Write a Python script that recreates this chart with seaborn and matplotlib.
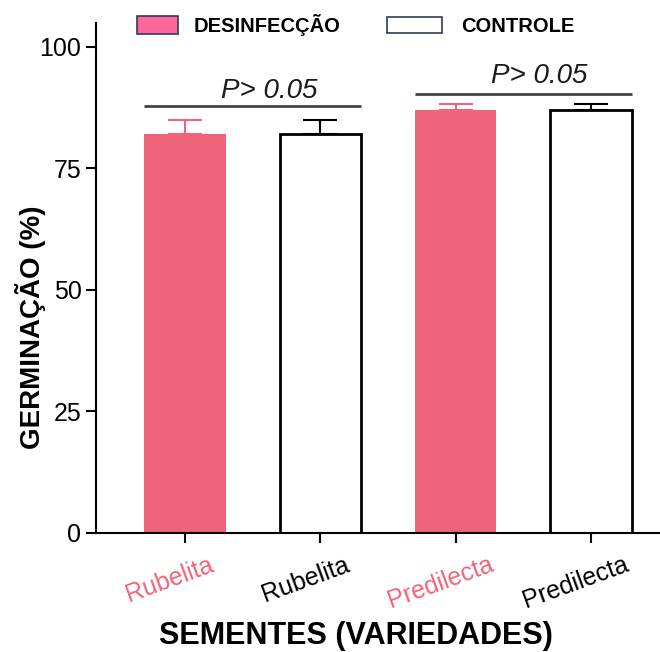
import matplotlib
matplotlib.use("Agg")
import matplotlib.pyplot as plt
import matplotlib.transforms as mtransforms
from matplotlib.patches import Patch
import seaborn as sns
import pandas as pd

# Germination data (mean % and upper error) per seed variety and treatment
grupos = ["Rubelita_D", "Rubelita_C", "Predilecta_D", "Predilecta_C"]
rotulos = ["Rubelita", "Rubelita", "Predilecta", "Predilecta"]
tratamento = ["DESINFECÇÃO", "CONTROLE", "DESINFECÇÃO", "CONTROLE"]
germinacao = [82, 82, 87, 87]
erro = [3, 3, 1.2, 1.2]

# Pairwise comparisons: (first bar, second bar, label)
comparacoes = [(0, 1, "P> 0.05"), (2, 3, "P> 0.05")]
altura_linha = [87.9, 90.2]
altura_texto = [89.5, 92.6]

ROSA = "#F06479"
ROSA_LEG = "#FF6699"
BORDA_LEG = "#2E3A5C"

sns.set_style("ticks")
plt.rcParams["font.family"] = ["Liberation Sans", "DejaVu Sans"]
plt.rcParams["text.color"] = "black"
plt.rcParams["axes.labelcolor"] = "black"

df = pd.DataFrame({"grupo": grupos, "trat": tratamento, "germ": germinacao})

fig = plt.figure(figsize=(6.6, 6.52), dpi=100)
ax = fig.add_axes([96 / 660, 1 - 533 / 652, 1 - 96 / 660, (533 - 23) / 652])

sns.barplot(data=df, x="grupo", y="germ", hue="trat", order=grupos,
            palette={"DESINFECÇÃO": ROSA, "CONTROLE": "white"},
            dodge=False, width=0.6, saturation=1, errorbar=None,
            legend=False, ax=ax)

for patch in ax.patches:
    i = int(round(patch.get_x() + patch.get_width() / 2))
    if tratamento[i] == "CONTROLE":
        patch.set_facecolor("white")
        patch.set_edgecolor("black")
        patch.set_linewidth(2.0)
    else:
        patch.set_facecolor(ROSA)
        patch.set_edgecolor("none")
        patch.set_linewidth(0)

for i, (m, e, t) in enumerate(zip(germinacao, erro, tratamento)):
    cor = ROSA if t == "DESINFECÇÃO" else "black"
    ax.errorbar(i, m, yerr=[[0], [e]], fmt="none", ecolor=cor,
                elinewidth=1.5, capsize=12.5, capthick=1.5, zorder=1)

for (a, b, txt), yl, yt in zip(comparacoes, altura_linha, altura_texto):
    ax.plot([a - 0.30, b + 0.30], [yl, yl], color="#444444", lw=2.0,
            solid_capstyle="butt", clip_on=False)
    ax.text((a + b) / 2 + 0.12, yt, txt, ha="center", va="baseline",
            fontsize=20, style="italic", color="#1a1a1a")

ax.set_xlim(-0.657, 3.51)
ax.set_ylim(0, 104.9)
ax.set_yticks([0, 25, 50, 75, 100])
ax.tick_params(axis="both", length=7, width=1.5, labelsize=18, color="black",
               labelcolor="black")
ax.set_xticks(range(len(rotulos)))
ax.set_xticklabels(rotulos, rotation=20, ha="center")
offset = mtransforms.ScaledTranslation(-15 / 100, -5 / 100, fig.dpi_scale_trans)
for lab, t in zip(ax.get_xticklabels(), tratamento):
    lab.set_color(ROSA if t == "DESINFECÇÃO" else "black")
    lab.set_transform(lab.get_transform() + offset)

for s in ["top", "right"]:
    ax.spines[s].set_visible(False)
for s in ["left", "bottom"]:
    ax.spines[s].set_linewidth(1.5)
    ax.spines[s].set_color("black")

ax.set_xlabel("SEMENTES (VARIEDADES)", fontsize=22, fontweight="bold")
ax.set_ylabel("GERMINAÇÃO (%)", fontsize=20, fontweight="bold")
ax.xaxis.set_label_coords((356 - 96) / 564, -(621 - 533) / 510)
ax.yaxis.set_label_coords(-(96 - 46) / 564, (533 - 327) / 510)

# Two single-entry legends so each swatch keeps its own size
leg_prop = {"weight": "bold", "size": 14.5}
fig.legend([Patch(facecolor=ROSA_LEG, edgecolor=BORDA_LEG, linewidth=1.2)],
           ["DESINFECÇÃO"], frameon=False, loc="upper left",
           bbox_to_anchor=(137 / 660, 1 - 14 / 652), borderpad=0,
           borderaxespad=0, handlelength=2.05, handleheight=1.0,
           handletextpad=0.75, prop=leg_prop)
fig.legend([Patch(facecolor="white", edgecolor=BORDA_LEG, linewidth=1.2)],
           ["CONTROLE"], frameon=False, loc="upper left",
           bbox_to_anchor=(387 / 660, 1 - 17 / 652), borderpad=0,
           borderaxespad=0, handlelength=2.75, handleheight=0.85,
           handletextpad=0.95, prop=leg_prop)

fig.savefig("out.png", dpi=100)
